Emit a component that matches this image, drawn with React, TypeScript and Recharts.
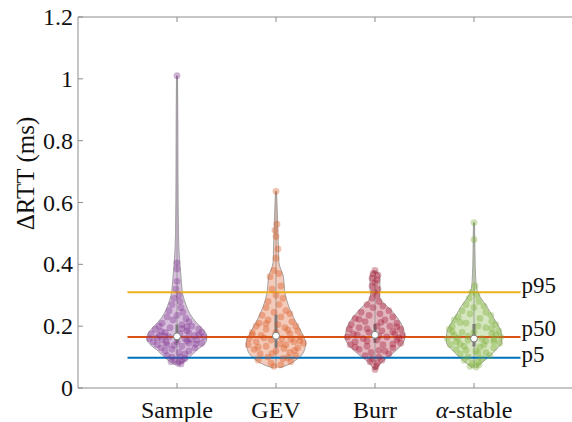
import React from 'react';
import {
  ComposedChart,
  XAxis,
  YAxis,
  Area,
  Scatter,
  ReferenceLine,
  ReferenceDot,
} from 'recharts';

const FONT = '"Liberation Serif", "Times New Roman", serif';
const AXIS_GRAY = '#8c8c8c';
const EDGE_GRAY = '#8f8f8f';
const TEXT = '#111';

const categories = ['Sample', 'GEV', 'Burr', 'α-stable'];
const seriesColors = ['#7E2F8E', '#D95319', '#A2142F', '#77AC30'];
const yTicks = [0, 0.2, 0.4, 0.6, 0.8, 1, 1.2];

// violin outline: [value, half width (category units)]
const sampleProfile = [
  [0.075, 0.02], [0.085, 0.07], [0.095, 0.11], [0.11, 0.16], [0.125, 0.21],
  [0.14, 0.27], [0.155, 0.3], [0.17, 0.3], [0.19, 0.26], [0.21, 0.2],
  [0.24, 0.13], [0.27, 0.09], [0.3, 0.06], [0.34, 0.045], [0.38, 0.035],
  [0.42, 0.025], [0.5, 0.015], [0.7, 0.01], [0.9, 0.008], [1.01, 0.005],
];
const gevProfile = [
  [0.065, 0.03], [0.07, 0.08], [0.09, 0.2], [0.117, 0.28], [0.146, 0.3],
  [0.178, 0.26], [0.22, 0.19], [0.263, 0.13], [0.308, 0.09], [0.36, 0.075],
  [0.405, 0.03], [0.45, 0.025], [0.5, 0.02], [0.55, 0.015], [0.6, 0.01], [0.636, 0.005],
];
const burrProfile = [
  [0.058, 0.01], [0.084, 0.07], [0.107, 0.16], [0.133, 0.25], [0.162, 0.3],
  [0.188, 0.29], [0.23, 0.22], [0.259, 0.14], [0.285, 0.06], [0.3, 0.045],
  [0.318, 0.05], [0.36, 0.05], [0.372, 0.035], [0.38, 0.01],
];
const stableProfile = [
  [0.065, 0.02], [0.09, 0.11], [0.123, 0.22], [0.15, 0.28], [0.178, 0.275],
  [0.22, 0.21], [0.263, 0.13], [0.308, 0.04], [0.34, 0.02], [0.4, 0.012],
  [0.48, 0.008], [0.535, 0.005],
];

// observations: [value, horizontal jitter]
const samplePoints = [
  [1.01, 0], [0.405, 0], [0.385, 0.0], [0.345, 0.0], [0.32, -0.01], [0.3, 0.02],
  [0.29, -0.03], [0.28, 0.03], [0.27, -0.05], [0.26, 0.04], [0.25, -0.08], [0.245, 0.06],
  [0.235, 0.0], [0.23, -0.1], [0.225, 0.09], [0.22, -0.04], [0.215, 0.12], [0.21, -0.15],
  [0.205, 0.05], [0.2, -0.18], [0.2, 0.15], [0.195, -0.07], [0.19, 0.22], [0.19, -0.22],
  [0.185, 0.1], [0.18, -0.12], [0.18, 0.25], [0.175, -0.26], [0.175, 0.03], [0.17, 0.18],
  [0.17, -0.18], [0.165, -0.08], [0.165, 0.27], [0.16, 0.08], [0.16, -0.28], [0.155, -0.15],
  [0.155, 0.2], [0.15, 0.0], [0.15, -0.24], [0.145, 0.12], [0.145, 0.25], [0.14, -0.1],
  [0.14, -0.2], [0.135, 0.05], [0.13, 0.18], [0.13, -0.16], [0.125, -0.05], [0.12, 0.12],
  [0.12, -0.12], [0.115, 0.02], [0.11, 0.08], [0.105, -0.1], [0.1, 0.03], [0.1, -0.05],
  [0.095, 0.08], [0.09, -0.02], [0.088, 0.05], [0.085, -0.06], [0.08, 0.01], [0.078, 0.04],
  [0.172, 0.22], [0.162, -0.2], [0.152, 0.1], [0.142, 0.19], [0.182, -0.16], [0.192, 0.05],
  [0.158, 0.14], [0.168, -0.12], [0.138, -0.03], [0.148, -0.11], [0.198, 0.1], [0.178, 0.12],
];
const gevPoints = [
  [0.636, 0], [0.53, 0.01], [0.51, -0.01], [0.49, 0], [0.45, 0.02], [0.42, 0.0],
  [0.38, -0.02], [0.37, 0.03], [0.36, -0.06], [0.33, 0.05], [0.32, -0.04], [0.3, 0.0],
  [0.29, 0.07], [0.28, -0.08], [0.27, 0.03], [0.26, -0.1], [0.25, 0.1], [0.245, -0.02],
  [0.24, 0.14], [0.235, -0.14], [0.23, 0.05], [0.22, -0.08], [0.215, 0.16], [0.21, -0.17],
  [0.205, 0.02], [0.2, 0.2], [0.2, -0.2], [0.195, 0.09], [0.19, -0.1], [0.185, 0.22],
  [0.18, -0.24], [0.18, 0.0], [0.175, 0.14], [0.17, -0.15], [0.165, 0.25], [0.16, -0.27],
  [0.16, 0.06], [0.155, -0.05], [0.15, 0.18], [0.15, -0.2], [0.145, 0.28], [0.14, -0.28],
  [0.14, 0.1], [0.135, -0.1], [0.13, 0.22], [0.125, -0.22], [0.12, 0.0], [0.115, 0.14],
  [0.11, -0.16], [0.105, 0.2], [0.1, -0.08], [0.095, 0.07], [0.09, -0.18], [0.085, 0.15],
  [0.08, -0.05], [0.075, 0.05], [0.07, -0.02],
  [0.172, -0.24], [0.152, 0.24], [0.132, -0.18], [0.122, 0.19], [0.162, -0.12], [0.142, 0.04],
  [0.112, -0.04], [0.188, 0.12], [0.208, -0.1], [0.098, 0.12], [0.128, 0.08], [0.158, 0.15],
];
const burrPoints = [
  [0.38, 0], [0.37, -0.02], [0.365, 0.03], [0.355, -0.03], [0.35, 0.02], [0.34, 0.0],
  [0.33, -0.03], [0.32, 0.03], [0.31, -0.01], [0.3, 0.02], [0.29, -0.03], [0.28, 0.04],
  [0.27, -0.08], [0.265, 0.08], [0.26, -0.02], [0.25, 0.14], [0.245, -0.14], [0.24, 0.05],
  [0.235, -0.06], [0.23, 0.18], [0.225, -0.2], [0.22, 0.1], [0.215, -0.1], [0.21, 0.22],
  [0.205, -0.24], [0.2, 0.02], [0.2, 0.15], [0.195, -0.16], [0.19, 0.26], [0.19, -0.26],
  [0.185, 0.07], [0.18, -0.06], [0.175, 0.2], [0.175, -0.22], [0.17, 0.28], [0.165, -0.28],
  [0.165, 0.12], [0.16, -0.12], [0.155, 0.22], [0.155, 0.02], [0.15, -0.2], [0.145, 0.26],
  [0.14, -0.25], [0.14, 0.08], [0.135, -0.08], [0.13, 0.18], [0.125, -0.16], [0.12, 0.1],
  [0.115, -0.04], [0.11, 0.14], [0.105, -0.1], [0.1, 0.04], [0.095, -0.03], [0.09, 0.07],
  [0.085, -0.05], [0.08, 0.02], [0.07, 0.01], [0.06, 0.0],
  [0.182, 0.18], [0.172, -0.18], [0.162, 0.24], [0.152, -0.08], [0.142, 0.18], [0.192, -0.08],
  [0.212, 0.06], [0.222, -0.16], [0.132, -0.2], [0.122, 0.04], [0.198, 0.22], [0.168, 0.04],
];
const stablePoints = [
  [0.535, 0], [0.48, 0], [0.33, 0.01], [0.31, -0.02], [0.3, 0.03], [0.29, -0.05],
  [0.28, 0.05], [0.27, -0.08], [0.265, 0.1], [0.26, 0.0], [0.25, -0.12], [0.245, 0.12],
  [0.24, -0.04], [0.235, 0.17], [0.23, -0.16], [0.225, 0.06], [0.22, -0.2], [0.215, 0.18],
  [0.21, -0.08], [0.205, 0.22], [0.2, -0.22], [0.2, 0.04], [0.195, 0.12], [0.19, -0.25],
  [0.185, 0.25], [0.18, -0.12], [0.18, 0.0], [0.175, 0.18], [0.17, -0.2], [0.165, 0.27],
  [0.16, -0.27], [0.16, 0.08], [0.155, -0.06], [0.15, 0.2], [0.15, -0.18], [0.145, 0.26],
  [0.14, -0.24], [0.14, 0.1], [0.135, -0.1], [0.13, 0.2], [0.125, -0.18], [0.12, 0.02],
  [0.115, 0.12], [0.11, -0.14], [0.105, 0.16], [0.1, -0.06], [0.095, 0.08], [0.09, -0.1],
  [0.085, 0.04], [0.08, -0.02], [0.075, 0.05], [0.07, -0.04], [0.068, 0.02],
  [0.172, 0.22], [0.162, -0.16], [0.152, 0.12], [0.142, -0.14], [0.132, 0.06], [0.182, -0.22],
  [0.192, 0.18], [0.212, -0.14], [0.122, -0.08], [0.112, 0.04], [0.168, -0.06], [0.158, 0.2],
];

// box summary per category
const q1 = [0.145, 0.13, 0.146, 0.134];
const q3 = [0.205, 0.237, 0.207, 0.207];
const medians = [0.167, 0.169, 0.172, 0.16];
const mins = [0.075, 0.065, 0.058, 0.065];
const maxs = [1.01, 0.636, 0.38, 0.535];

// reference percentiles
const pctNames = ['p95', 'p50', 'p5'];
const pctValues = [0.31, 0.165, 0.098];
const pctColors = ['#EDB120', '#D95319', '#0072BD'];
const pctLabelShift = [-7, -9, -4];

const profiles = [sampleProfile, gevProfile, burrProfile, stableProfile];
const pointSets = [samplePoints, gevPoints, burrPoints, stablePoints];

const violinData = profiles.map((prof, i) =>
  prof.map(([v, w]) => ({ y: v, band: [i + 1 - w, i + 1 + w] }))
);
const scatterData = pointSets.map((pts, i) =>
  pts.map(([v, j]) => ({ x: i + 1 + j, y: v }))
);

const CategoryTick = (props: any) => {
  const { x, y, payload } = props;
  const name = categories[Math.round(payload.value) - 1] ?? '';
  const greek = name.startsWith('α');
  return (
    <text x={x} y={y} dy={19} textAnchor="middle" fontSize={24} fill={TEXT} fontFamily={FONT}>
      {greek ? (
        <>
          <tspan fontStyle="italic">α</tspan>
          <tspan>{name.slice(1)}</tspan>
        </>
      ) : (
        name
      )}
    </text>
  );
};

const fmtY = (v: number) => (v === 0 || v === 1 ? String(v) : v.toFixed(1));

const ValueTick = (props: any) => {
  const { x, y, payload } = props;
  return (
    <text
      x={x}
      y={y}
      dy={8}
      textAnchor="end"
      fontSize={24}
      fill={TEXT}
      fontFamily={FONT}
    >
      {fmtY(payload.value)}
    </text>
  );
};

const pctLabel = (name: string, shift: number) => (p: any) => {
  const vb = p.viewBox || {};
  const x = (vb.x ?? 0) + (vb.width ?? 0) + 1;
  const y = (vb.y ?? 0) + (vb.height ?? 0) / 2 + shift;
  return (
    <text x={x} y={y} dy={8} fontSize={23} fill={TEXT} fontFamily={FONT}>
      {name}
    </text>
  );
};

export default function App() {
  return (
    <div
      style={{
        position: 'absolute',
        left: 0,
        top: 0,
        width: 572,
        height: 422,
        background: '#fff',
        overflow: 'hidden',
        fontFamily: FONT,
      }}
    >
      <ComposedChart
        width={572}
        height={422}
        layout="vertical"
        margin={{ top: 16, right: -2, bottom: 33, left: 77 }}
      >
        <XAxis
          type="number"
          dataKey="x"
          domain={[0, 5]}
          ticks={[1, 2, 3, 4]}
          allowDataOverflow
          height={1}
          stroke={AXIS_GRAY}
          tickSize={-5}
          tickMargin={16}
          tick={<CategoryTick />}
        />
        <XAxis
          xAxisId="top"
          orientation="top"
          type="number"
          domain={[0, 5]}
          ticks={[1, 2, 3, 4]}
          allowDataOverflow
          height={1}
          stroke={AXIS_GRAY}
          tickSize={-5}
          tickFormatter={() => ''}
        />
        <YAxis
          type="number"
          dataKey="y"
          domain={[0, 1.2]}
          ticks={yTicks}
          reversed
          allowDataOverflow
          width={1}
          stroke={AXIS_GRAY}
          tickSize={-5}
          tickMargin={10}
          tick={<ValueTick />}
          label={{
            content: (p: any) => {
              const vb = p.viewBox || {};
              const cx = (vb.x ?? 77) + (vb.width ?? 1) - 53;
              const cy = (vb.y ?? 17) + (vb.height ?? 371) / 2 - 29;
              return (
                <text
                  x={cx}
                  y={cy}
                  transform={`rotate(-90, ${cx}, ${cy})`}
                  textAnchor="middle"
                  dy={9}
                  fontSize={25}
                  fill={TEXT}
                  fontFamily={FONT}
                >
                  ΔRTT (ms)
                </text>
              );
            },
          }}
        />
        <YAxis
          yAxisId="right"
          orientation="right"
          type="number"
          domain={[0, 1.2]}
          ticks={yTicks}
          reversed
          allowDataOverflow
          width={1}
          stroke={AXIS_GRAY}
          tickSize={-5}
          tickFormatter={() => ''}
        />

        {violinData.map((d, i) => (
          <Area
            key={`violin-${i}`}
            data={d}
            dataKey="band"
            type="monotone"
            fill={seriesColors[i]}
            fillOpacity={0.3}
            stroke={EDGE_GRAY}
            strokeWidth={0.8}
            dot={false}
            activeDot={false}
            isAnimationActive={false}
          />
        ))}

        {scatterData.map((d, i) => (
          <Scatter
            key={`pts-${i}`}
            data={d}
            isAnimationActive={false}
            shape={(p: any) => (
              <circle cx={p.cx} cy={p.cy} r={3.4} fill={seriesColors[i]} fillOpacity={0.36} />
            )}
          />
        ))}

        {categories.map((_, i) => (
          <ReferenceLine
            key={`whisker-${i}`}
            segment={[
              { x: i + 1, y: mins[i] },
              { x: i + 1, y: maxs[i] },
            ]}
            stroke={EDGE_GRAY}
            strokeWidth={0.8}
          />
        ))}

        {pctNames.map((name, i) => (
          <ReferenceLine
            key={name}
            segment={[
              { x: 0.5, y: pctValues[i] },
              { x: 4.47, y: pctValues[i] },
            ]}
            stroke={pctColors[i]}
            strokeWidth={2}
            label={{ content: pctLabel(name, pctLabelShift[i]) }}
          />
        ))}

        {categories.map((_, i) => (
          <ReferenceLine
            key={`box-${i}`}
            segment={[
              { x: i + 1, y: q1[i] },
              { x: i + 1, y: q3[i] },
            ]}
            stroke="#7a7a7a"
            strokeWidth={3}
          />
        ))}

        {categories.map((_, i) => (
          <ReferenceDot
            key={`med-${i}`}
            x={i + 1}
            y={medians[i]}
            r={3.5}
            fill="#fff"
            stroke="#7a7a7a"
            strokeWidth={1}
          />
        ))}
      </ComposedChart>
    </div>
  );
}
